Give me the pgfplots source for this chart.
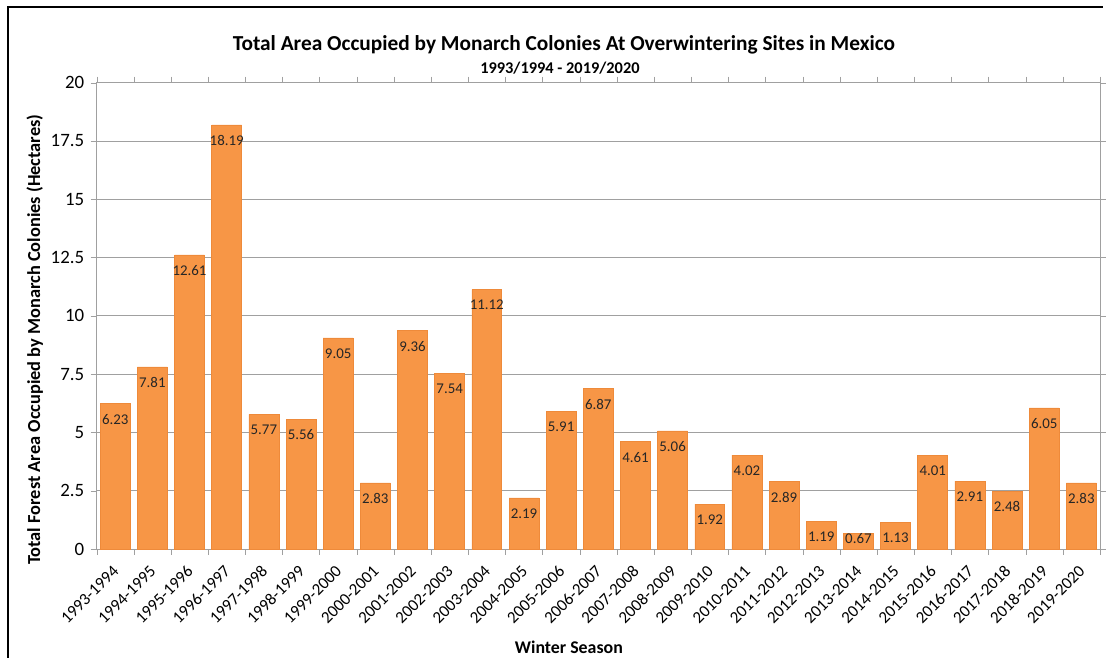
\documentclass[border=0pt]{standalone}
\usepackage{fontspec}
\setmainfont{Carlito}
\usepackage{pgfplots}
\pgfplotsset{compat=1.18}
\definecolor{barfill}{HTML}{F79646}
\definecolor{baredge}{HTML}{EE8A3A}
\definecolor{gridgray}{HTML}{A0A0A0}

\begin{document}
\begin{tikzpicture}[x=1bp,y=1bp]
  % page extent and outer frame
  \path (0,0) rectangle (1106,660);
  \draw[line width=2.5bp, black] (8,0) -- (8,653) -- (1107,653);

  \begin{axis}[
    at={(97bp,109bp)}, anchor=south west,
    scale only axis, width=1007bp, height=468bp,
    ymin=0, ymax=20,
    xmin=-0.5, xmax=26.5,
    ytick={0,2.5,5,7.5,10,12.5,15,17.5,20},
    /pgf/number format/assume math mode=true,
    yticklabel={\fontsize{19}{19}\selectfont\pgfmathprintnumber{\tick}},
    yticklabel style={anchor=east, xshift=-3bp},
    xtick={0,...,26},
    xticklabels={1993-1994,1994-1995,1995-1996,1996-1997,1997-1998,1998-1999,1999-2000,2000-2001,2001-2002,2002-2003,2003-2004,2004-2005,2005-2006,2006-2007,2007-2008,2008-2009,2009-2010,2010-2011,2011-2012,2012-2013,2013-2014,2014-2015,2015-2016,2016-2017,2017-2018,2018-2019,2019-2020},
    xticklabel style={font=\fontsize{17}{17}\selectfont, xshift=3bp, yshift=-11bp, rotate=45, anchor=east},
    major x tick style={draw=none},
    minor xtick={-0.5,0.5,...,26.5},
    minor tick length=6bp,
    major tick length=6bp,
    tick align=outside,
    tick style={gridgray},
    ymajorgrids, grid style={gridgray, line width=0.8bp},
    axis line style={gridgray, line width=0.8bp},
    ybar, bar width=30bp,
    nodes near coords={\pgfmathprintnumber[fixed,fixed zerofill,precision=2]{\pgfplotspointmeta}},
    every node near coord/.append style={anchor=north, yshift=-7bp, font=\fontsize{15}{15}\selectfont, text=black!85},
    % the shortest bar carries its label across its top
    coordinate style/.condition={\coordindex==20}{yshift=11bp},
    clip=false,
  ]
    \addplot[fill=barfill, draw=baredge, line width=0.6bp] coordinates {
      (0,6.23) (1,7.81) (2,12.61) (3,18.19) (4,5.77) (5,5.56) (6,9.05)
      (7,2.83) (8,9.36) (9,7.54) (10,11.12) (11,2.19) (12,5.91) (13,6.87)
      (14,4.61) (15,5.06) (16,1.92) (17,4.02) (18,2.89) (19,1.19) (20,0.67)
      (21,1.13) (22,4.01) (23,2.91) (24,2.48) (25,6.05) (26,2.83)
    };
  \end{axis}

  % titles and axis labels
  \node[font=\bfseries\fontsize{21.5}{21.5}\selectfont] at (566,615) {Total Area Occupied by Monarch Colonies At Overwintering Sites in Mexico};
  \node[font=\bfseries\fontsize{16.5}{16.5}\selectfont] at (562,592) {1993/1994 - 2019/2020};
  \node[font=\bfseries\fontsize{18.5}{18.5}\selectfont, rotate=90] at (35,319) {Total Forest Area Occupied by Monarch Colonies (Hectares)};
  \node[font=\bfseries\fontsize{18}{18}\selectfont] at (571,10) {Winter Season};
\end{tikzpicture}
\end{document}
